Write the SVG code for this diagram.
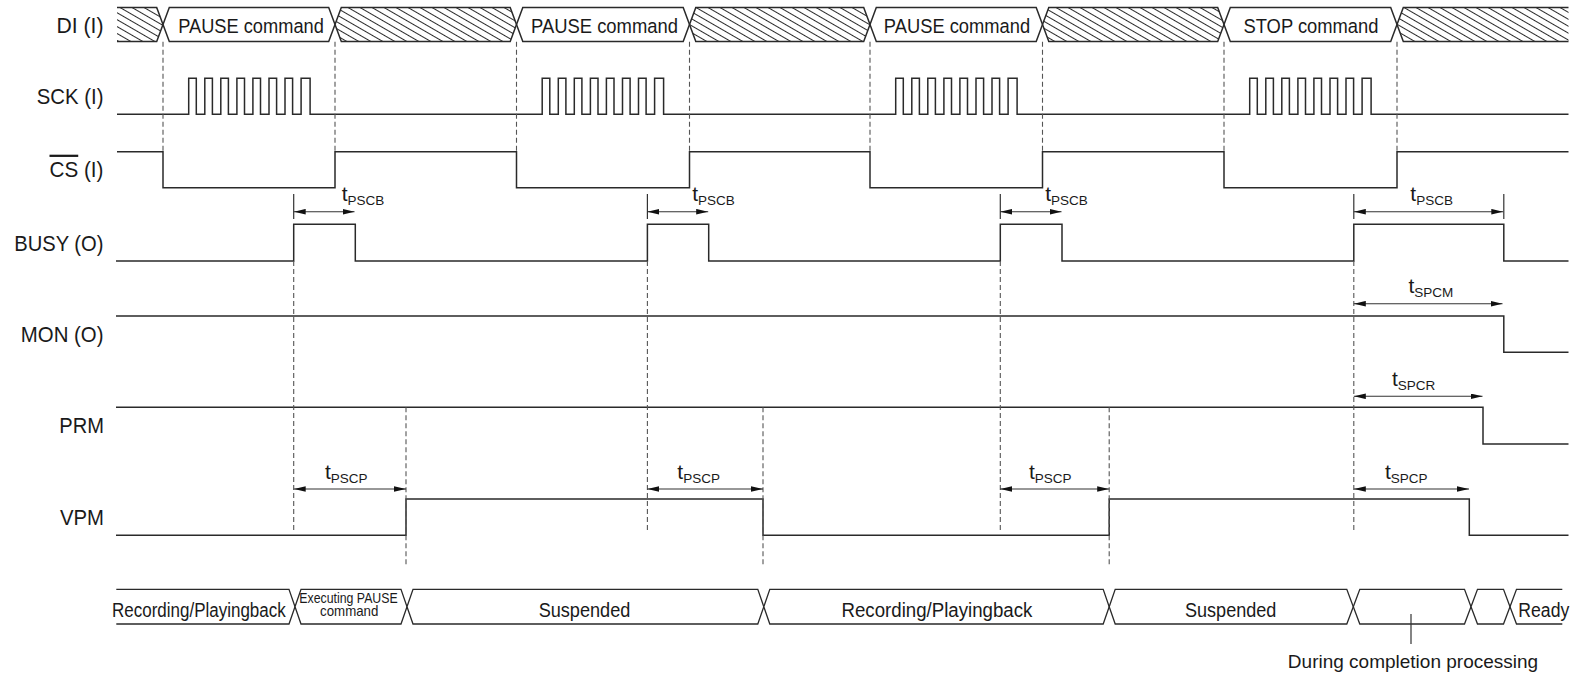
<svg xmlns="http://www.w3.org/2000/svg" width="1584" height="677" viewBox="0 0 1584 677">
<style>
.sig{fill:none;stroke:#2a2a2a;stroke-width:1.5;stroke-linejoin:miter}
.box{fill:#fff;stroke:#2a2a2a;stroke-width:1.3}
.hfill{fill:url(#hatch);stroke:none}
.dash{fill:none;stroke:#555;stroke-width:1.1;stroke-dasharray:5,3}
.tick{fill:none;stroke:#333;stroke-width:1.2}
.arr{fill:none;stroke:#333;stroke-width:1.1;marker-start:url(#ah);marker-end:url(#ah)}
text{font-family:"Liberation Sans",Arial,sans-serif;fill:#1a1a1a}
.lbl{font-size:22.5px;text-anchor:end}
.di{font-size:20.5px;text-anchor:middle}
.st{font-size:19.5px;text-anchor:middle}
.tl{font-size:21px}
.sub{font-size:13.5px}
</style>
<defs>
<pattern id="hatch" width="12" height="6" patternUnits="userSpaceOnUse" patternTransform="rotate(30)">
<line x1="-1" y1="0.5" x2="13" y2="0.5" stroke="#2a2a2a" stroke-width="1"/>
</pattern>
<marker id="ah" markerUnits="userSpaceOnUse" markerWidth="12" markerHeight="6" refX="12" refY="2.8" orient="auto-start-reverse">
<path d="M0,0 L12,2.8 L0,5.6 Z" fill="#111"/>
</marker>
</defs>
<rect width="1584" height="677" fill="#fff"/>

<g id="labels">
<text class="lbl" x="103.5" y="32.5" textLength="47" lengthAdjust="spacingAndGlyphs">DI (I)</text>
<text class="lbl" x="103.5" y="104.3" textLength="66.7" lengthAdjust="spacingAndGlyphs">SCK (I)</text>
<text class="lbl" x="103.5" y="176.7" textLength="54" lengthAdjust="spacingAndGlyphs"><tspan style="text-decoration:overline">CS</tspan> (I)</text>
<text class="lbl" x="103.5" y="250.7" textLength="89.3" lengthAdjust="spacingAndGlyphs">BUSY (O)</text>
<text class="lbl" x="103.5" y="341.7" textLength="82.7" lengthAdjust="spacingAndGlyphs">MON (O)</text>
<text class="lbl" x="104" y="433.3" textLength="44.7" lengthAdjust="spacingAndGlyphs">PRM</text>
<text class="lbl" x="104" y="525" textLength="44" lengthAdjust="spacingAndGlyphs">VPM</text>
</g>

<g id="DI">
<path class="hfill" d="M117,7.5 H156.7 L163,24.5 L156.7,41.5 H117 Z"/>
<path class="sig" d="M117,7.5 H156.7 L163,24.5 L156.7,41.5 H117"/>
<path class="hfill" d="M335,24.5 L341.3,7.5 H510.2 L516.5,24.5 L510.2,41.5 H341.3 Z"/>
<path class="sig" d="M335,24.5 L341.3,7.5 H510.2 L516.5,24.5 L510.2,41.5 H341.3 Z"/>
<path class="hfill" d="M689.5,24.5 L695.8,7.5 H863.7 L870,24.5 L863.7,41.5 H695.8 Z"/>
<path class="sig" d="M689.5,24.5 L695.8,7.5 H863.7 L870,24.5 L863.7,41.5 H695.8 Z"/>
<path class="hfill" d="M1042.5,24.5 L1048.8,7.5 H1217.7 L1224,24.5 L1217.7,41.5 H1048.8 Z"/>
<path class="sig" d="M1042.5,24.5 L1048.8,7.5 H1217.7 L1224,24.5 L1217.7,41.5 H1048.8 Z"/>
<path class="hfill" d="M1397,24.5 L1403.3,7.5 H1568.5 V41.5 H1403.3 Z"/>
<path class="sig" d="M1568.5,7.5 H1403.3 L1397,24.5 L1403.3,41.5 H1568.5"/>
<path class="sig" d="M163,24.5 L169.3,7.5 H328.7 L335,24.5 L328.7,41.5 H169.3 Z"/>
<path class="sig" d="M516.5,24.5 L522.8,7.5 H683.2 L689.5,24.5 L683.2,41.5 H522.8 Z"/>
<path class="sig" d="M870,24.5 L876.3,7.5 H1036.2 L1042.5,24.5 L1036.2,41.5 H876.3 Z"/>
<path class="sig" d="M1224,24.5 L1230.3,7.5 H1390.7 L1397,24.5 L1390.7,41.5 H1230.3 Z"/>
<text class="di" x="251" y="33" textLength="145.7" lengthAdjust="spacingAndGlyphs">PAUSE command</text>
<text class="di" x="604.5" y="33" textLength="147" lengthAdjust="spacingAndGlyphs">PAUSE command</text>
<text class="di" x="957" y="33" textLength="146.3" lengthAdjust="spacingAndGlyphs">PAUSE command</text>
<text class="di" x="1311" y="33" textLength="135" lengthAdjust="spacingAndGlyphs">STOP command</text>
</g>

<g id="SCK">
<path class="sig" d="M117,114.3
H188.7 V78.3 H196.3 V114.3 H204.8 V78.3 H212.4 V114.3 H220.8 V78.3 H228.4 V114.3 H236.9 V78.3 H244.5 V114.3 H252.9 V78.3 H260.5 V114.3 H269 V78.3 H276.6 V114.3 H285 V78.3 H292.6 V114.3 H301.1 V78.3 H310.1 V114.3
H542.2 V78.3 H549.8 V114.3 H558.3 V78.3 H565.9 V114.3 H574.3 V78.3 H581.9 V114.3 H590.4 V78.3 H598 V114.3 H606.4 V78.3 H614 V114.3 H622.5 V78.3 H630.1 V114.3 H638.5 V78.3 H646.1 V114.3 H654.6 V78.3 H663.6 V114.3
H895.7 V78.3 H903.3 V114.3 H911.8 V78.3 H919.4 V114.3 H927.8 V78.3 H935.4 V114.3 H943.9 V78.3 H951.5 V114.3 H959.9 V78.3 H967.5 V114.3 H976 V78.3 H983.6 V114.3 H992 V78.3 H999.6 V114.3 H1008.1 V78.3 H1017.1 V114.3
H1249.7 V78.3 H1257.3 V114.3 H1265.8 V78.3 H1273.4 V114.3 H1281.8 V78.3 H1289.4 V114.3 H1297.9 V78.3 H1305.5 V114.3 H1313.9 V78.3 H1321.5 V114.3 H1330 V78.3 H1337.6 V114.3 H1346 V78.3 H1353.6 V114.3 H1362.1 V78.3 H1371.1 V114.3
H1568.5"/>
</g>

<g id="CS">
<path class="sig" d="M117,151.7 H163 V187.7 H335 V151.7 H516.5 V187.7 H689.5 V151.7 H870 V187.7 H1042.5 V151.7 H1224 V187.7 H1397 V151.7 H1568.5"/>
</g>

<g id="BUSY">
<path class="sig" d="M116,261 H293.7 V224.3 H355.3 V261 H647.4 V224.3 H708.7 V261 H1000.3 V224.3 H1062 V261 H1353.8 V224.3 H1503.8 V261 H1568.5"/>
</g>

<g id="MON">
<path class="sig" d="M116,316 H1503.8 V352.3 H1568.5"/>
</g>

<g id="PRM">
<path class="sig" d="M116,407.3 H1483 V444 H1568.5"/>
</g>

<g id="VPM">
<path class="sig" d="M116,535.3 H406 V499 H763 V535.3 H1109.2 V499 H1469.3 V535.3 H1568.5"/>
</g>

<g id="state">
<path class="box" d="M116.3,589.3 H289 L295,606.7 L289,624 H116.3"/>
<path class="box" d="M295,606.7 L301,589.3 H401 L407,606.7 L401,624 H301 Z"/>
<path class="box" d="M407,606.7 L413,589.3 H757.8 L763.8,606.7 L757.8,624 H413 Z"/>
<path class="box" d="M763.8,606.7 L769.8,589.3 H1103.2 L1109.2,606.7 L1103.2,624 H769.8 Z"/>
<path class="box" d="M1109.2,606.7 L1115.2,589.3 H1346.8 L1353.3,606.7 L1346.8,624 H1115.2 Z"/>
<path class="box" d="M1353.3,606.7 L1359.8,589.3 H1464.5 L1471,606.7 L1464.5,624 H1359.8 Z"/>
<path class="box" d="M1471,606.7 L1477.5,589.3 H1503.5 L1510,606.7 L1503.5,624 H1477.5 Z"/>
<path class="box" style="fill:none" d="M1562.3,589.3 H1516.5 L1510,606.7 L1516.5,624 H1562.3"/>
<text class="st" x="198.9" y="616.5" textLength="173.7" lengthAdjust="spacingAndGlyphs">Recording/Playingback</text>
<text x="348.5" y="602.5" style="font-size:14.5px;text-anchor:middle" textLength="98.4" lengthAdjust="spacingAndGlyphs">Executing PAUSE</text>
<text x="349.2" y="615.5" style="font-size:14.5px;text-anchor:middle" textLength="58.3" lengthAdjust="spacingAndGlyphs">command</text>
<text class="st" x="584.5" y="616.5" textLength="91.7" lengthAdjust="spacingAndGlyphs">Suspended</text>
<text class="st" x="936.9" y="616.5" textLength="190.8" lengthAdjust="spacingAndGlyphs">Recording/Playingback</text>
<text class="st" x="1230.7" y="616.5" textLength="91.4" lengthAdjust="spacingAndGlyphs">Suspended</text>
<text x="1518.3" y="616.5" style="font-size:19.5px" textLength="51" lengthAdjust="spacingAndGlyphs">Ready</text>
<line class="tick" x1="1411" y1="614" x2="1411" y2="644"/>
<text x="1413" y="668" style="font-size:19px;text-anchor:middle">During completion processing</text>
</g>

<g id="connectors">
<g id="dashed">
<path class="dash" d="M163,41.7 V151.7 M335,41.7 V151.7 M516.5,41.7 V151.7 M689.5,41.7 V151.7 M870,41.7 V151.7 M1042.5,41.7 V151.7 M1224,41.7 V151.7 M1397,41.7 V151.7"/>
<path class="dash" d="M293.7,261 V533 M647.4,261 V533 M1000.3,261 V533 M1353.8,261 V533"/>
<path class="dash" d="M406,407.3 V567 M763,407.3 V567 M1109.2,407.3 V567"/>
</g>
<path class="tick" d="M293.7,194 V219 M647.4,194 V219 M1000.3,194 V219 M1353.8,194 V219 M1503.8,194 V219"/>
<line class="arr" x1="293.7" y1="211.7" x2="354.5" y2="211.7"/>
<line class="arr" x1="647.4" y1="211.7" x2="708.2" y2="211.7"/>
<line class="arr" x1="1000.3" y1="211.7" x2="1061.5" y2="211.7"/>
<line class="arr" x1="1353.8" y1="211.7" x2="1503.3" y2="211.7"/>
<line class="arr" x1="1353.8" y1="303.7" x2="1502.5" y2="303.7"/>
<line class="arr" x1="1353.8" y1="396.3" x2="1482.5" y2="396.3"/>
<line class="arr" x1="293.7" y1="489" x2="406" y2="489"/>
<line class="arr" x1="647.4" y1="489" x2="763" y2="489"/>
<line class="arr" x1="1000.3" y1="489" x2="1109.2" y2="489"/>
<line class="arr" x1="1353.8" y1="489" x2="1469" y2="489"/>
</g>

<g id="timing-labels">
<text class="tl" x="341.7" y="200.7">t<tspan class="sub" dy="4.3">PSCB</tspan></text>
<text class="tl" x="692.2" y="200.7">t<tspan class="sub" dy="4.3">PSCB</tspan></text>
<text class="tl" x="1045.2" y="200.7">t<tspan class="sub" dy="4.3">PSCB</tspan></text>
<text class="tl" x="1410.3" y="200.7">t<tspan class="sub" dy="4.3">PSCB</tspan></text>
<text class="tl" x="1408.5" y="293">t<tspan class="sub" dy="4.3">SPCM</tspan></text>
<text class="tl" x="1392" y="385.7">t<tspan class="sub" dy="4.3">SPCR</tspan></text>
<text class="tl" x="325" y="478.5">t<tspan class="sub" dy="4.3">PSCP</tspan></text>
<text class="tl" x="677.3" y="478.5">t<tspan class="sub" dy="4.3">PSCP</tspan></text>
<text class="tl" x="1029" y="478.5">t<tspan class="sub" dy="4.3">PSCP</tspan></text>
<text class="tl" x="1385" y="478.5">t<tspan class="sub" dy="4.3">SPCP</tspan></text>
</g>
</svg>
